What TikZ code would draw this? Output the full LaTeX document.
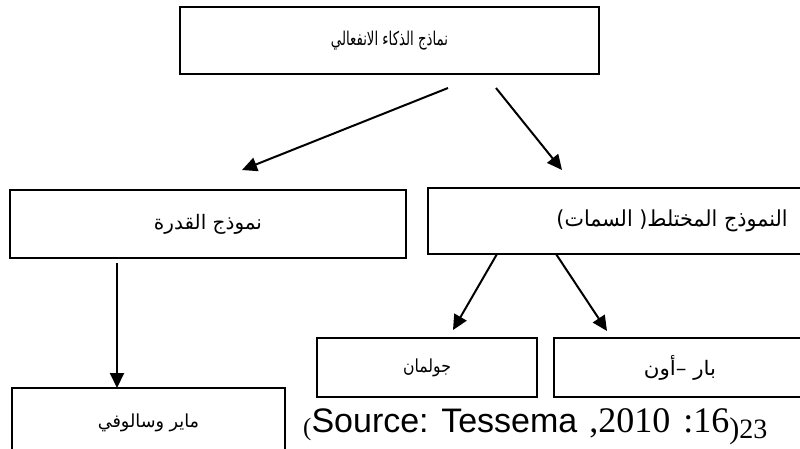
\documentclass[tikz,border=0pt]{standalone}
\usepackage{graphicx}
\usepackage{fontspec}
\setmainfont{Liberation Serif}
\newfontfamily\arabicfont[Script=Arabic]{DejaVu Sans}
\newfontfamily\sansf{Liberation Sans}
\TeXXeTstate=1
\usetikzlibrary{arrows.meta,calc}
\newcommand{\artext}[3]{\scalebox{#2}[1]{\arabicfont\fontsize{#1}{#1}\selectfont #3}}
\begin{document}
\begin{tikzpicture}[x=1pt,y=-1pt,
  box/.style={draw, line width=1.6pt, inner sep=0pt, anchor=center},
  arr/.style={line width=2pt, -{Triangle[length=15pt,width=14pt]}}]
\useasboundingbox (0,0) rectangle (800,448);
% boxes
\node[box, minimum width=419pt, minimum height=67pt] (top) at (389.5,40.5)
  {\artext{19}{0.7}{\beginR نماذج الذكاء الانفعالي\endR}};
\node[box, minimum width=396pt, minimum height=68pt] (ability) at (208,224)
  {\artext{20}{1.0}{\beginR نموذج القدرة\endR}};
\node[box, minimum width=488pt, minimum height=66pt] (mixed) at (672,221)
  {\artext{22}{0.94}{\beginR النموذج المختلط( السمات)\endR}};
\node[box, minimum width=220pt, minimum height=59pt] (goleman) at (427,367.5)
  {\artext{18}{0.87}{\beginR جولمان\endR}};
\node[box, minimum width=252pt, minimum height=59pt] (baron) at (680,367.5)
  {\artext{20}{1.07}{\beginR بار –أون\endR}};
\node[box, minimum width=273pt, minimum height=70pt] (mayer) at (148.5,423)
  {\artext{18}{0.98}{\beginR ماير وسالوفي\endR}};
% source
\node[anchor=base west, inner sep=0pt] (src) at (303,432)
  {\raisebox{-3.5pt}{\fontsize{25}{25}\selectfont(}{\sansf\fontsize{34}{34}\selectfont Source: Tessema}{\fontsize{36}{36}\selectfont\hspace{12pt},2010\hspace{13pt}:16}\raisebox{-6pt}{\fontsize{30}{30}\selectfont)}\raisebox{-6pt}{\fontsize{28}{28}\selectfont 23}};
% connector ends
\coordinate (a1s) at (448,88);
\coordinate (a1e) at (242,170);
\coordinate (a2s) at (496,88);
\coordinate (a2e) at (562,170);
\coordinate (a3s) at (497,254);
\coordinate (a3e) at (453,330);
\coordinate (a4s) at (556,254);
\coordinate (a4e) at (607,331);
\coordinate (a5s) at (117,263);
\coordinate (a5e) at (117,388);
\draw[arr] (a1s) -- (a1e);
\draw[arr] (a2s) -- (a2e);
\draw[arr] (a3s) -- (a3e);
\draw[arr] (a4s) -- (a4e);
\draw[arr] (a5s) -- (a5e);
\end{tikzpicture}
\end{document}
